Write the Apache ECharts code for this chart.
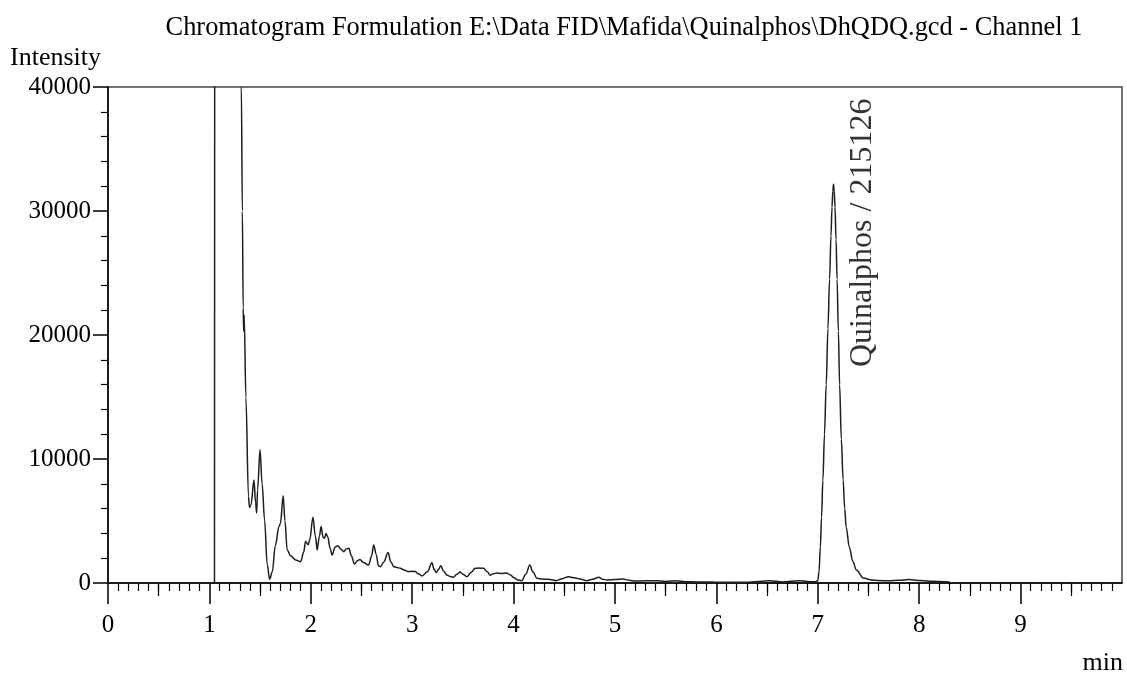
<!DOCTYPE html>
<html>
<head>
<meta charset="utf-8">
<script src="https://cdn.jsdelivr.net/npm/echarts@6/dist/echarts.min.js"></script>
<style>
html,body{margin:0;padding:0;background:#fff;}
#chart{width:1127px;height:678px;}
</style>
</head>
<body>
<div id="chart"></div>
<script>
// ---- data (retention time in min, detector intensity) ----
const titleText = 'Chromatogram Formulation E:\\Data FID\\Mafida\\Quinalphos\\DhQDQ.gcd - Channel 1';
const yAxisName = 'Intensity';
const xAxisName = 'min';
const peakName = 'Quinalphos / 215126';
const peakLabelAt = [7.44, 28240];
const xMajorTicks = [0, 1, 2, 3, 4, 5, 6, 7, 8, 9];
const xHalfTicks = [0.5, 1.5, 2.5, 3.5, 4.5, 5.5, 6.5, 7.5, 8.5, 9.5];

const times = [
  0.0, 0.5, 1.0, 1.05, 1.053, 1.30, 1.315, 1.325, 1.333, 1.338, 1.343, 1.36, 1.385, 1.395, 1.41,
  1.44, 1.455, 1.466, 1.475, 1.499, 1.52, 1.544, 1.57, 1.594, 1.62, 1.65, 1.686, 1.70, 1.728, 1.745,
  1.767, 1.80, 1.85, 1.90, 1.93, 1.948, 1.975, 1.99, 2.021, 2.045, 2.063, 2.085, 2.102, 2.12, 2.135,
  2.15, 2.168, 2.19, 2.21, 2.24, 2.266, 2.30, 2.325, 2.35, 2.375, 2.40, 2.43, 2.46, 2.484, 2.52,
  2.57, 2.60, 2.62, 2.645, 2.667, 2.687, 2.72, 2.762, 2.79, 2.818, 2.85, 2.883, 2.92, 2.965, 3.0,
  3.03, 3.06, 3.097, 3.15, 3.195, 3.215, 3.238, 3.26, 3.283, 3.31, 3.342, 3.375, 3.407, 3.44, 3.473,
  3.50, 3.54, 3.58, 3.622, 3.66, 3.704, 3.74, 3.77, 3.80, 3.835, 3.88, 3.93, 3.97, 4.0, 4.04,
  4.08, 4.12, 4.16, 4.19, 4.23, 4.28, 4.34, 4.38, 4.42, 4.48, 4.54, 4.60, 4.655, 4.72, 4.78,
  4.84, 4.88, 4.92, 5.0, 5.08, 5.14, 5.2, 5.3, 5.41, 5.5, 5.6, 5.7, 5.8, 5.97, 6.1,
  6.3, 6.53, 6.65, 6.82, 6.9, 6.98, 7.0, 7.012, 7.025, 7.037, 7.05, 7.066, 7.083, 7.1, 7.116,
  7.13, 7.14, 7.148, 7.155, 7.162, 7.17, 7.18, 7.19, 7.203, 7.215, 7.232, 7.25, 7.265, 7.28, 7.31,
  7.345, 7.38, 7.45, 7.53, 7.6, 7.7, 7.8, 7.9, 7.95, 8.0, 8.1, 8.2, 8.3
];
const intensity = [
  0, 0, 0, 0, 60000, 60000, 40000, 30000, 22200, 20300, 21600, 15000, 7000, 6100, 6300,
  8300, 6500, 5650, 7500, 10750, 8000, 5100, 1500, 300, 900, 3000, 4550, 4800, 7030, 5000,
  2670, 2200, 1860, 1720, 2500, 3340, 3100, 3500, 5300, 3800, 2670, 3800, 4550, 3700, 3600,
  4000, 3700, 2800, 2260, 2900, 3000, 2700, 2530, 2750, 2800, 2200, 1540, 1800, 1900, 1650,
  1450, 2200, 3070, 2300, 1400, 1320, 1700, 2450, 1700, 1320, 1250, 1190, 1050, 920, 950,
  920, 750, 570, 900, 1640, 1100, 830, 1100, 1400, 950, 650, 520, 460, 700, 890,
  700, 510, 850, 1190, 1200, 1190, 900, 620, 750, 800, 760, 800, 650, 450, 250,
  190, 700, 1450, 900, 380, 320, 300, 250, 190, 350, 510, 420, 320, 190, 300,
  460, 300, 240, 280, 320, 220, 160, 180, 190, 130, 190, 110, 90, 80, 60,
  70, 190, 80, 190, 120, 100, 200, 900, 2900, 5300, 8300, 12000, 16000, 20500, 24500,
  28000, 30300, 31600, 32160, 31600, 30300, 27700, 24500, 20300, 16000, 11600, 8300, 6000, 4500, 2930,
  1750, 1050, 400, 250, 200, 180, 220, 280, 250, 200, 150, 120, 80
];

const seriesData = times.map((t, i) => [t, intensity[i]]);

const FONT = 'Liberation Serif';
const chart = echarts.init(document.getElementById('chart'), null, {renderer: 'canvas'});

chart.setOption({
  animation: false,
  backgroundColor: '#ffffff',
  title: {
    text: titleText,
    left: 619, top: 10, textAlign: 'center',
    textStyle: {fontFamily: FONT, fontSize: 26.4, fontWeight: 'normal', color: '#000'}
  },
  grid: {
    left: 108, right: 5, top: 87, bottom: 95,
    show: true, borderColor: '#444', borderWidth: 1.5
  },
  xAxis: [
    {
      type: 'value', min: 0, max: 10, interval: 1, position: 'bottom',
      axisLine: {show: true, lineStyle: {color: '#000', width: 1.5}},
      axisTick: {show: true, length: 21, customValues: xMajorTicks,
        lineStyle: {color: '#000', width: 1.5}},
      minorTick: {show: true, splitNumber: 10, length: 8, lineStyle: {color: '#000', width: 1.2}},
      splitLine: {show: false},
      axisLabel: {fontFamily: FONT, fontSize: 25, color: '#000', margin: 30,
        customValues: xMajorTicks, formatter: v => String(v)}
    },
    {
      type: 'value', min: 0, max: 10, interval: 0.5, position: 'bottom', offset: 0,
      axisLine: {show: false},
      axisTick: {show: true, length: 13, customValues: xHalfTicks,
        lineStyle: {color: '#000', width: 1.2}},
      splitLine: {show: false},
      axisLabel: {show: false}
    }
  ],
  yAxis: {
    type: 'value', min: 0, max: 40000, interval: 10000,
    axisLine: {show: true, lineStyle: {color: '#000', width: 1.5}},
    axisTick: {show: true, length: 15, lineStyle: {color: '#000', width: 1.5}},
    minorTick: {show: true, splitNumber: 5, length: 7, lineStyle: {color: '#000', width: 1.2}},
    splitLine: {show: false},
    axisLabel: {fontFamily: FONT, fontSize: 25, color: '#000', margin: 17,
      formatter: v => String(v)}
  },
  graphic: [
    {type: 'text', left: 10, top: 45,
      style: {text: yAxisName, fontFamily: FONT, fontSize: 26, fill: '#000'}},
    {type: 'text', right: 4, top: 650,
      style: {text: xAxisName, fontFamily: FONT, fontSize: 26, fill: '#000'}}
  ],
  series: [
    {
      type: 'line', xAxisIndex: 0, data: seriesData,
      showSymbol: false, symbol: 'none',
      smooth: 0.35, smoothMonotone: 'x', clip: true,
      lineStyle: {color: '#1e1e1e', width: 1.5}
    },
    {
      type: 'scatter', xAxisIndex: 0, data: [peakLabelAt],
      symbolSize: 0, silent: true,
      label: {
        show: true, position: 'inside', rotate: 90,
        align: 'center', verticalAlign: 'middle',
        formatter: peakName,
        fontFamily: FONT, fontSize: 32, color: '#000'
      }
    }
  ]
});
</script>
</body>
</html>
